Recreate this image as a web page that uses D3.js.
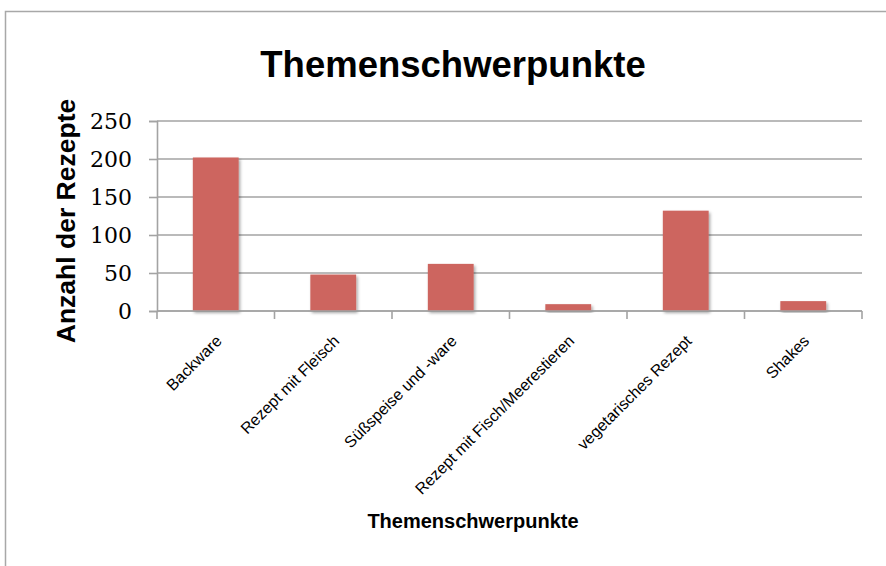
<!DOCTYPE html>
<html>
<head>
<meta charset="utf-8">
<script src="https://cdn.jsdelivr.net/npm/d3@7"></script>
<style>
  html, body { margin: 0; padding: 0; background: #fff; }
  svg { display: block; }
</style>
</head>
<body>
<svg id="chart" width="886" height="566"></svg>
<script>
// Recipe counts per topic
const categories = ["Backware", "Rezept mit Fleisch", "Süßspeise und -ware",
  "Rezept mit Fisch/Meerestieren", "vegetarisches Rezept", "Shakes"];
const counts = [202, 48, 62, 9, 132, 13];
const yTicks = [0, 50, 100, 150, 200, 250];

const chartTitle = "Themenschwerpunkte";
const xTitle = "Themenschwerpunkte";
const yTitle = "Anzahl der Rezepte";

const svg = d3.select("#chart");
const W = 886, H = 566;
const plot = { left: 157, right: 862, top: 121, bottom: 311 };
const gridColor = "#a3a3a3";

// Outer chart frame
svg.append("rect")
  .attr("x", 5.5).attr("y", 11.5)
  .attr("width", W + 20).attr("height", H + 20)
  .attr("fill", "#fff").attr("stroke", "#a8a8a8").attr("stroke-width", 1.5);

// Soft shadow under bars
const defs = svg.append("defs");
const f = defs.append("filter").attr("id", "barShadow")
  .attr("x", "-30%").attr("y", "-10%").attr("width", "160%").attr("height", "130%");
f.append("feDropShadow").attr("dx", 1.5).attr("dy", 2).attr("stdDeviation", 1.8)
  .attr("flood-color", "#000").attr("flood-opacity", 0.35);

const x = d3.scaleBand().domain(categories)
  .range([plot.left, plot.right]).paddingInner(0.61).paddingOuter(0.305);
const y = d3.scaleLinear().domain([0, 250]).range([plot.bottom, plot.top]);

// Horizontal gridlines
svg.append("g").selectAll("line").data(yTicks).join("line")
  .attr("x1", plot.left).attr("x2", plot.right)
  .attr("y1", d => y(d)).attr("y2", d => y(d))
  .attr("stroke", gridColor).attr("stroke-width", 1.6);

// Y axis
const yAxis = svg.append("g").attr("transform", `translate(${plot.left},0)`)
  .call(d3.axisLeft(y).tickValues(yTicks).tickSize(8).tickPadding(17));
yAxis.select(".domain").attr("stroke", gridColor).attr("stroke-width", 1.6);
yAxis.selectAll(".tick line").attr("stroke", gridColor).attr("stroke-width", 1.6);
yAxis.selectAll(".tick text")
  .attr("font-family", "'DejaVu Serif', serif").attr("font-size", 22)
  .attr("fill", "#000").attr("dy", "0.36em");

// Bars
svg.append("g").selectAll("rect").data(categories).join("rect")
  .attr("x", d => x(d))
  .attr("y", (d, i) => y(counts[i]))
  .attr("width", x.bandwidth())
  .attr("height", (d, i) => y(0) - y(counts[i]))
  .attr("fill", "#cd655f")
  .attr("filter", "url(#barShadow)");

// X axis line and boundary ticks
const step = (plot.right - plot.left) / categories.length;
const bounds = d3.range(categories.length + 1).map(i => plot.left + i * step);
svg.append("line")
  .attr("x1", plot.left).attr("x2", plot.right)
  .attr("y1", plot.bottom).attr("y2", plot.bottom)
  .attr("stroke", gridColor).attr("stroke-width", 1.6);
svg.append("g").selectAll("line").data(bounds).join("line")
  .attr("x1", d => d).attr("x2", d => d)
  .attr("y1", plot.bottom).attr("y2", plot.bottom + 8)
  .attr("stroke", gridColor).attr("stroke-width", 1.6);

// Rotated category labels
svg.append("g").selectAll("text").data(categories).join("text")
  .attr("transform", d => `translate(${x(d) + x.bandwidth() / 2 + 7},${plot.bottom + 31}) rotate(-45)`)
  .attr("text-anchor", "end")
  .attr("font-family", "'Liberation Sans', Arial, sans-serif")
  .attr("font-size", 16)
  .attr("fill", "#000")
  .text(d => d);

// Titles
svg.append("text")
  .attr("x", 453).attr("y", 77)
  .attr("text-anchor", "middle")
  .attr("font-family", "'Liberation Sans', Arial, sans-serif")
  .attr("font-weight", "bold").attr("font-size", 36.5)
  .text(chartTitle);

svg.append("text")
  .attr("x", 473).attr("y", 528)
  .attr("text-anchor", "middle")
  .attr("font-family", "'Liberation Sans', Arial, sans-serif")
  .attr("font-weight", "bold").attr("font-size", 20)
  .text(xTitle);

svg.append("text")
  .attr("transform", "translate(75,221) rotate(-90)")
  .attr("text-anchor", "middle")
  .attr("font-family", "'Liberation Sans', Arial, sans-serif")
  .attr("font-weight", "bold").attr("font-size", 26.5)
  .text(yTitle);
</script>
</body>
</html>
